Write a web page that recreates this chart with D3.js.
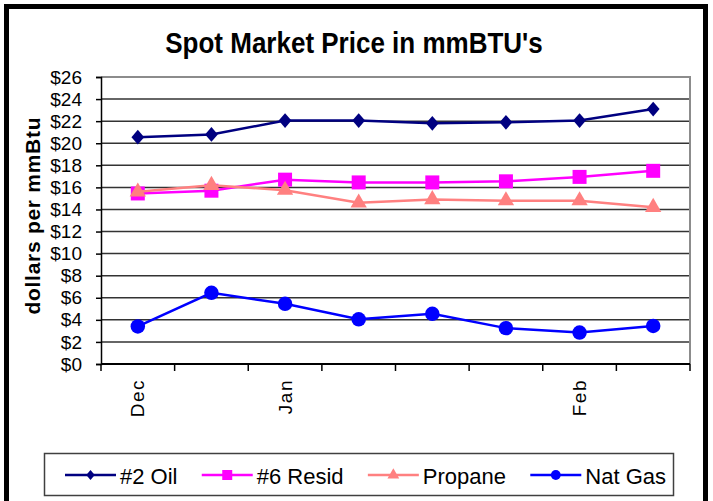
<!DOCTYPE html>
<html lang="en">
<head>
  <title>Spot Market Price</title>
  <script src="https://d3js.org/d3.v7.min.js"></script>
  <style>
    body { margin: 0; background: white; }
    svg text { font-family: Arial, "Liberation Sans", sans-serif; fill: black; }
  </style>
</head>
<body>
<div id="chart"></div>
<script>
// data
var months = ["Dec", "", "Jan", "", "", "", "Feb", ""];
var yTicks = [0, 2, 4, 6, 8, 10, 12, 14, 16, 18, 20, 22, 24, 26];
var oil = [20.55, 20.8, 22.05, 22.05, 21.8, 21.9, 22.05, 23.1];
var resid = [15.45, 15.7, 16.7, 16.45, 16.45, 16.55, 16.95, 17.5];
var propane = [15.6, 16.2, 15.75, 14.6, 14.9, 14.8, 14.8, 14.2];
var natGas = [3.4, 6.45, 5.45, 4.05, 4.55, 3.25, 2.85, 3.45];
var seriesNames = ["#2 Oil", "#6 Resid", "Propane", "Nat Gas"];

// Excel style diamond, a bit wider than d3's
var wideDiamond = {
  draw: function(ctx, size) {
    var h = Math.sqrt(size) / 2;
    ctx.moveTo(0, -h * 1.1);
    ctx.lineTo(h * 0.95, 0);
    ctx.lineTo(0, h * 1.1);
    ctx.lineTo(-h * 0.95, 0);
    ctx.closePath();
  }
};

var series = [
  { name: seriesNames[0], values: oil, color: "#000080", shape: wideDiamond, size: 180, lsize: 80 },
  { name: seriesNames[1], values: resid, color: "#FF00FF", shape: d3.symbolSquare, size: 196, lsize: 100 },
  { name: seriesNames[2], values: propane, color: "#FF8080", shape: d3.symbolTriangle, size: 115, lsize: 60 },
  { name: seriesNames[3], values: natGas, color: "#0000FF", shape: d3.symbolCircle, size: 165, lsize: 75 }
];

var width = 713, height = 501;
var plotLeft = 101, plotRight = 690, plotTop = 77, plotBottom = 364;

var svg = d3.select("#chart").append("svg")
  .attr("width", width)
  .attr("height", height);

svg.append("rect")
  .attr("width", width).attr("height", height)
  .style("fill", "white");

// thick outer frame (bottom edge is off the picture)
svg.append("rect")
  .attr("x", 6.5).attr("y", 6.5)
  .attr("width", 699).attr("height", 620)
  .style("fill", "none")
  .style("stroke", "black")
  .style("stroke-width", 5);

svg.append("text")
  .attr("transform", "translate(354,53) scale(1,1.1)")
  .attr("text-anchor", "middle")
  .style("font-size", "26px")
  .style("font-weight", "bold")
  .text("Spot Market Price in mmBTU's");

var x = d3.scaleBand()
  .domain(d3.range(months.length))
  .range([plotLeft, plotRight])
  .paddingInner(0).paddingOuter(0);

var y = d3.scaleLinear()
  .domain([0, 26])
  .range([plotBottom, plotTop]);

// gridlines
svg.append("g")
  .selectAll("line")
  .data(yTicks.slice(1, -1))
  .enter().append("line")
  .attr("x1", plotLeft).attr("x2", plotRight)
  .attr("y1", function(d) { return y(d); })
  .attr("y2", function(d) { return y(d); })
  .style("stroke", "#333")
  .style("stroke-width", 1.5);

// plot area border (top and right)
svg.append("path")
  .attr("d", "M" + plotLeft + "," + y(26) + "H" + plotRight + "V" + plotBottom)
  .style("fill", "none")
  .style("stroke", "#8c8c8c")
  .style("stroke-width", 2);

// y axis
var yAxis = svg.append("g")
  .attr("transform", "translate(" + plotLeft + ",0)")
  .call(d3.axisLeft(y)
    .tickValues(yTicks)
    .tickSize(5)
    .tickPadding(14)
    .tickFormat(function(d) { return "$" + d; }));
yAxis.select(".domain").style("stroke", "black").style("stroke-width", 1.5);
yAxis.selectAll(".tick line").style("stroke", "black").style("stroke-width", 1.5);
yAxis.selectAll("text")
  .style("font-size", "19px")
  .style("font-family", "Arial, 'Liberation Sans', sans-serif")
  .attr("fill", "black");

// x axis: ticks between categories
var xAxis = svg.append("g");
xAxis.append("line")
  .attr("x1", plotLeft).attr("x2", plotRight)
  .attr("y1", plotBottom).attr("y2", plotBottom)
  .style("stroke", "black")
  .style("stroke-width", 2);
xAxis.selectAll("line.tk")
  .data(d3.range(months.length + 1))
  .enter().append("line")
  .attr("class", "tk")
  .attr("x1", function(i) { return i < months.length ? x(i) : x(i - 1) + x.bandwidth(); })
  .attr("x2", function(i) { return i < months.length ? x(i) : x(i - 1) + x.bandwidth(); })
  .attr("y1", plotBottom).attr("y2", plotBottom + 7)
  .style("stroke", "black")
  .style("stroke-width", 1.5);
xAxis.selectAll("text")
  .data(months)
  .enter().append("text")
  .attr("transform", function(d, i) {
    return "translate(" + (x(i) + x.bandwidth() / 2) + "," + 379 + ") rotate(-90)";
  })
  .attr("dy", "0.35em")
  .attr("text-anchor", "end")
  .style("font-size", "19px")
  .style("letter-spacing", "1.5px")
  .text(function(d) { return d; });

svg.append("text")
  .attr("transform", "translate(40,216) rotate(-90)")
  .attr("text-anchor", "middle")
  .style("font-size", "21px")
  .style("font-weight", "bold")
  .attr("textLength", 197)
  .attr("lengthAdjust", "spacing")
  .text("dollars per mmBtu");

// series
var line = d3.line()
  .x(function(d, i) { return x(i) + x.bandwidth() / 2; })
  .y(function(d) { return y(d); });

series.forEach(function(s) {
  var g = svg.append("g");
  g.append("path")
    .datum(s.values)
    .attr("d", line)
    .style("fill", "none")
    .style("stroke", s.color)
    .style("stroke-width", 2.5);
  g.selectAll("path.mk")
    .data(s.values)
    .enter().append("path")
    .attr("class", "mk")
    .attr("transform", function(d, i) {
      return "translate(" + (x(i) + x.bandwidth() / 2) + "," + y(d) + ")";
    })
    .attr("d", d3.symbol().type(s.shape).size(s.size))
    .style("fill", s.color);
});

// legend
var legend = svg.append("g");
legend.append("rect")
  .attr("x", 44.5).attr("y", 453.5)
  .attr("width", 629).attr("height", 42)
  .style("fill", "white")
  .style("stroke", "#404040")
  .style("stroke-width", 1.5);

var items = legend.selectAll("g.item")
  .data(series)
  .enter().append("g")
  .attr("class", "item");

items.append("text")
  .attr("x", 55).attr("y", 484)
  .style("font-size", "22px")
  .text(function(d) { return d.name; });

// spread the items between x=65 and x=666
var widths = [];
items.select("text").each(function() { widths.push(this.getComputedTextLength()); });
var lineLen = 51, gapText = 4;
var total = d3.sum(widths) + series.length * (lineLen + gapText);
var gap = (666 - 65 - total) / (series.length - 1);
var cx = 65;
items.each(function(d, i) {
  var it = d3.select(this);
  it.append("line")
    .attr("x1", cx).attr("x2", cx + lineLen)
    .attr("y1", 475).attr("y2", 475)
    .style("stroke", d.color)
    .style("stroke-width", 2.5);
  it.append("path")
    .attr("transform", "translate(" + (cx + lineLen / 2) + ",475)")
    .attr("d", d3.symbol().type(d.shape).size(d.lsize))
    .style("fill", d.color);
  it.select("text").attr("x", cx + lineLen + gapText);
  cx += lineLen + gapText + widths[i] + gap;
});
</script>
</body>
</html>
